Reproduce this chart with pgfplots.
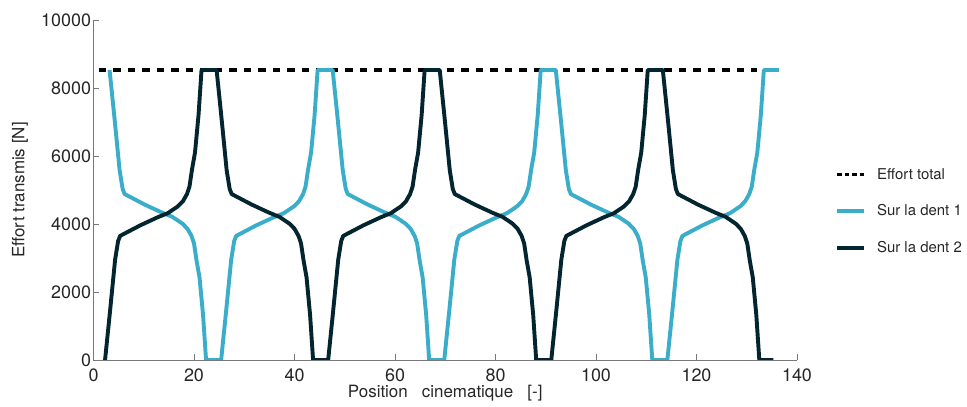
\documentclass[border=0pt]{standalone}
\usepackage{fontspec}
\setmainfont{TeX Gyre Heros}
\usepackage{pgfplots}
\pgfplotsset{compat=1.18}
\definecolor{dentA}{RGB}{58,173,203}
\definecolor{dentB}{RGB}{3,37,48}
\definecolor{axgray}{RGB}{120,120,120}
\definecolor{txt}{RGB}{38,38,38}
\begin{document}
\begin{tikzpicture}
\begin{axis}[
  at={(0bp,0bp)}, anchor=south west,
  scale only axis, width=703.5bp, height=340bp,
  xmin=0, xmax=140, ymin=0, ymax=10000,
  axis x line*=bottom, axis y line*=left,
  axis line style={axgray, line width=0.8bp, -},
  xtick={0,20,...,140}, ytick={0,2000,...,10000},
  tick align=inside, major tick length=6bp,
  tick style={axgray, line width=0.8bp},
  scaled y ticks=false,
  yticklabel style={xshift=1bp, /pgf/number format/.cd, fixed, 1000 sep={}},
  /pgf/number format/assume math mode=true,
  tick label style={font=\fontsize{18}{21}\selectfont, text=txt},
  xticklabel style={yshift=-5bp},
  xlabel={Position\ \ \ cinematique\ \ \ [-]},
  ylabel={Effort transmis [N]},
  label style={font=\fontsize{17}{20}\selectfont, text=txt},
  xlabel style={at={(axis description cs:0.5,0)}, anchor=center, yshift=-33bp},
  ylabel style={at={(axis description cs:-0.1045,0.5)}, anchor=center},
  legend style={at={(axis description cs:1.054,0.438)}, anchor=west, draw=none, fill=none,
    font=\fontsize{15}{18}\selectfont, text=txt, row sep=20bp, column sep=9bp, inner sep=0pt},
  legend cell align=left,
  legend image code/.code={\draw[#1] (0bp,0bp) -- (27bp,0bp);},
  line join=round,
]
\addplot[black, line width=3.5bp, dash pattern=on 7.5bp off 7bp,
  legend image code/.code={\draw[black, line width=3.5bp, dash pattern=on 4.5bp off 3bp] (0bp,0bp) -- (27bp,0bp);}]
  coordinates {(1.0,8530) (132.0,8530)};
\addlegendentry{Effort total}
\addplot[dentA, line width=3.9bp] coordinates {
(3.2,8530) (4.2,7080) (5.2,5580) (5.8,5030) (6.2,4880) (10.2,4570) (13.7,4330) (15.7,4210) (17.7,4010) (18.7,3860) (19.5,3650) (20.0,3430) (20.5,2930) (21.1,2430) (21.8,1330) (22.4,0)
(25.4,0) (26.4,1450) (27.4,2950) (28.0,3500) (28.4,3650) (32.4,3960) (35.9,4200) (37.9,4320) (39.9,4520) (40.9,4670) (41.7,4880) (42.2,5100) (42.7,5600) (43.3,6100) (44.0,7200) (44.6,8530)
(47.6,8530) (48.6,7080) (49.6,5580) (50.2,5030) (50.6,4880) (54.6,4570) (58.1,4330) (60.1,4210) (62.1,4010) (63.1,3860) (63.9,3650) (64.4,3430) (64.9,2930) (65.5,2430) (66.2,1330) (66.8,0)
(69.8,0) (70.8,1450) (71.8,2950) (72.4,3500) (72.8,3650) (76.8,3960) (80.3,4200) (82.3,4320) (84.3,4520) (85.3,4670) (86.1,4880) (86.6,5100) (87.1,5600) (87.7,6100) (88.4,7200) (89.0,8530)
(92.0,8530) (93.0,7080) (94.0,5580) (94.6,5030) (95.0,4880) (99.0,4570) (102.5,4330) (104.5,4210) (106.5,4010) (107.5,3860) (108.3,3650) (108.8,3430) (109.3,2930) (109.9,2430) (110.6,1330) (111.2,0)
(114.2,0) (115.2,1450) (116.2,2950) (116.8,3500) (117.2,3650) (121.2,3960) (124.7,4200) (126.7,4320) (128.7,4520) (129.7,4670) (130.5,4880) (131.0,5100) (131.5,5600) (132.1,6100) (132.8,7200) (133.4,8530)
(136.4,8530)
};
\addlegendentry{Sur la dent 1}
\addplot[dentB, line width=3.9bp] coordinates {
(2.3,0) (3.3,1450) (4.3,2950) (4.9,3500) (5.3,3650) (9.3,3960) (12.8,4200) (14.8,4320) (16.8,4520) (17.8,4670) (18.6,4880) (19.1,5100) (19.6,5600) (20.2,6100) (20.9,7200) (21.5,8530)
(24.5,8530) (25.5,7080) (26.5,5580) (27.1,5030) (27.5,4880) (31.5,4570) (35.0,4330) (37.0,4210) (39.0,4010) (40.0,3860) (40.8,3650) (41.3,3430) (41.8,2930) (42.4,2430) (43.1,1330) (43.7,0)
(46.7,0) (47.7,1450) (48.7,2950) (49.3,3500) (49.7,3650) (53.7,3960) (57.2,4200) (59.2,4320) (61.2,4520) (62.2,4670) (63.0,4880) (63.5,5100) (64.0,5600) (64.6,6100) (65.3,7200) (65.9,8530)
(68.9,8530) (69.9,7080) (70.9,5580) (71.5,5030) (71.9,4880) (75.9,4570) (79.4,4330) (81.4,4210) (83.4,4010) (84.4,3860) (85.2,3650) (85.7,3430) (86.2,2930) (86.8,2430) (87.5,1330) (88.1,0)
(91.1,0) (92.1,1450) (93.1,2950) (93.7,3500) (94.1,3650) (98.1,3960) (101.6,4200) (103.6,4320) (105.6,4520) (106.6,4670) (107.4,4880) (107.9,5100) (108.4,5600) (109.0,6100) (109.7,7200) (110.3,8530)
(113.3,8530) (114.3,7080) (115.3,5580) (115.9,5030) (116.3,4880) (120.3,4570) (123.8,4330) (125.8,4210) (127.8,4010) (128.8,3860) (129.6,3650) (130.1,3430) (130.6,2930) (131.2,2430) (131.9,1330) (132.5,0)
(135.3,0)
};
\addlegendentry{Sur la dent 2}
\end{axis}
\path[use as bounding box] (-93.5bp,-47bp) rectangle (873.5bp,360bp);
\end{tikzpicture}
\end{document}
